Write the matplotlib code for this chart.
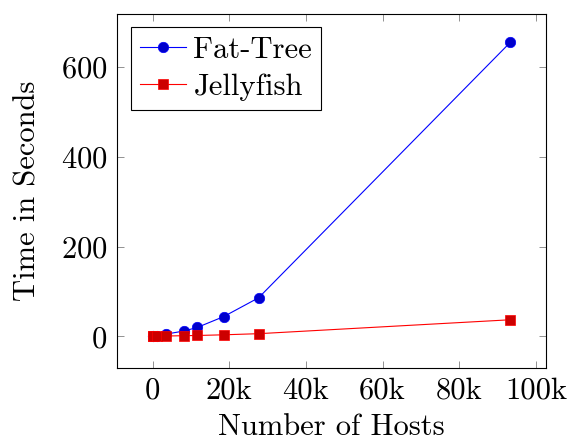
import matplotlib
matplotlib.use("Agg")
import matplotlib.pyplot as plt

hosts = [16, 128, 1024, 3456, 8192, 11664, 18522, 27648, 93312]
fat_tree = [0.1, 0.3, 1.5, 5, 12, 20, 44, 86, 655]
jellyfish = [0.1, 0.2, 0.5, 0.8, 1.5, 2, 3.5, 6, 37]

xticks = [0, 20000, 40000, 60000, 80000, 100000]
xtick_labels = ["0", "20k", "40k", "60k", "80k", "100k"]
yticks = [0, 200, 400, 600]

plt.rcParams["font.family"] = ["cmr10", "DejaVu Serif"]
plt.rcParams["axes.formatter.use_mathtext"] = True

fig = plt.figure(figsize=(5.68, 4.41), dpi=100)
ax = fig.add_axes([0.206, 0.166, 0.755, 0.803])

ax.plot(hosts, fat_tree, color=(0, 0, 1), lw=0.8, marker="o", ms=7.5,
        mfc=(0, 0, 0.8), mec=(0, 0, 1), mew=0.5, label="Fat-Tree")
ax.plot(hosts, jellyfish, color=(1, 0, 0), lw=0.8, marker="s", ms=7.5,
        mfc=(0.8, 0, 0), mec=(1, 0, 0), mew=0.5, label="Jellyfish")

ax.set_xlim(-9300, 102600)
ax.set_ylim(-70, 719)
ax.set_xticks(xticks)
ax.set_xticklabels(xtick_labels)
ax.set_yticks(yticks)
ax.tick_params(direction="in", top=True, right=True, length=5, width=0.6,
               color="0.5", labelsize=22, pad=7)
for s in ax.spines.values():
    s.set_linewidth(0.8)

ax.set_xlabel("Number of Hosts", fontsize=22, labelpad=6)
ax.set_ylabel("Time in Seconds", fontsize=22, labelpad=14)

leg = ax.legend(loc="upper left", fontsize=22, frameon=True, fancybox=False,
                edgecolor="black", framealpha=1, handlelength=1.5,
                borderpad=0.3, labelspacing=0.3, handletextpad=0.25,
                borderaxespad=0.45)
leg.get_frame().set_linewidth(0.8)

fig.savefig("out.png", dpi=100)
